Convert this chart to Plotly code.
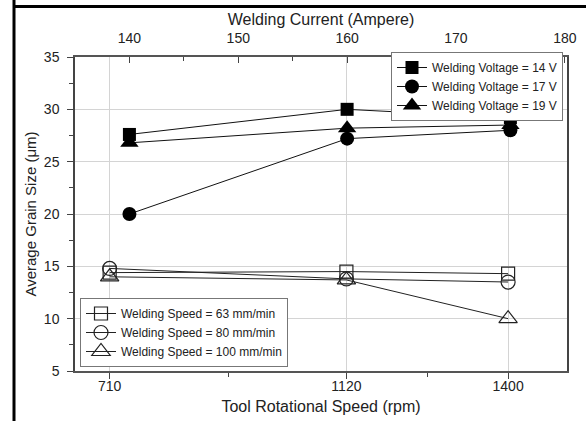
import plotly.graph_objects as go

# Top axis: Welding Current (Ampere)
current = [140, 160, 175]
v14 = [27.6, 30.0, 29.2]
v17 = [20.0, 27.2, 28.0]
v19 = [26.8, 28.2, 28.5]

# Bottom axis: Tool Rotational Speed (rpm)
rpm = [710, 1120, 1400]
s63 = [14.4, 14.5, 14.3]
s80 = [14.8, 13.8, 13.5]
s100 = [14.0, 13.7, 10.0]

voltage_names = ["Welding Voltage = 14 V", "Welding Voltage = 17 V", "Welding Voltage = 19 V"]
speed_names = ["Welding Speed = 63 mm/min", "Welding Speed = 80 mm/min", "Welding Speed = 100 mm/min"]

FONT = "Liberation Sans, Arial, sans-serif"
fig = go.Figure()

for ys, name, sym, sz in zip([s63, s80, s100], speed_names,
                             ["square-open", "circle-open", "triangle-up-open"], [13, 14, 16]):
    fig.add_trace(go.Scatter(
        x=rpm, y=ys, name=name, mode="lines+markers",
        line=dict(color="#222", width=1),
        marker=dict(symbol=sym, size=sz, color="#222", line=dict(width=1.2)),
        legend="legend2", xaxis="x", yaxis="y"))

for ys, name, sym, sz in zip([v14, v17, v19], voltage_names,
                             ["square", "circle", "triangle-up"], [13, 14, 16]):
    fig.add_trace(go.Scatter(
        x=current, y=ys, name=name, mode="lines+markers",
        line=dict(color="#111", width=1),
        marker=dict(symbol=sym, size=sz, color="#000"),
        legend="legend", xaxis="x2", yaxis="y"))

W, H = 586, 421
L, R, T, B = 75, 19, 57, 50
pw, ph = W - L - R, H - T - B

def px(x):
    return (x - L) / pw

def py(y):
    return (H - B - y) / ph

fig.update_layout(
    width=W, height=H,
    margin=dict(l=L, r=R, t=T, b=B, autoexpand=False),
    paper_bgcolor="white", plot_bgcolor="white",
    font=dict(family=FONT, color="#222", size=14),
    showlegend=True,
    xaxis=dict(
        range=[650, 1502], tickvals=rpm, ticks="outside", ticklen=6, tickwidth=1,
        tickcolor="#444", showgrid=True, gridcolor="#d4d4d4", gridwidth=1,
        showline=True, linecolor="#555", linewidth=1.5, zeroline=False, automargin=False,
        ticklabelstandoff=-5,
        minor=dict(tickvals=[915, 1260], ticks="outside", ticklen=4, tickcolor="#444", showgrid=False),
        title=dict(text="Tool Rotational Speed (rpm)", font=dict(size=16), standoff=8),
        tickfont=dict(size=14),
    ),
    xaxis2=dict(
        overlaying="x", side="top", anchor="y", automargin=False,
        range=[135, 180.2], tickvals=[140, 150, 160, 170, 180], ticks="inside", ticklen=6,
        tickcolor="#444", showgrid=False, showline=True, linecolor="#555", linewidth=1.5,
        zeroline=False, ticklabelstandoff=7,
        minor=dict(tickvals=[145, 155, 165, 175], ticks="inside", ticklen=4, tickcolor="#444"),
        title=dict(text="Welding Current (Ampere)", font=dict(size=16), standoff=0),
        tickfont=dict(size=14),
    ),
    yaxis=dict(
        range=[5, 35], dtick=5, ticks="outside", ticklen=6, tickcolor="#444",
        showgrid=True, gridcolor="#d4d4d4", showline=True, linecolor="#444", linewidth=1.5,
        mirror=True, zeroline=False, automargin=False, ticklabelstandoff=5,
        minor=dict(dtick=2.5, ticks="outside", ticklen=4, tickcolor="#444", showgrid=False),
        title=dict(text="Average Grain Size (μm)", font=dict(size=15), standoff=4),
        tickfont=dict(size=14),
    ),
    legend=dict(
        x=px(563), y=py(52), xanchor="right", yanchor="top",
        bgcolor="white", bordercolor="#777", borderwidth=1,
        font=dict(size=12, color="#222"), tracegroupgap=0, itemwidth=30,
    ),
    legend2=dict(
        x=px(80), y=py(367), xanchor="left", yanchor="bottom",
        bgcolor="white", bordercolor="#777", borderwidth=1,
        font=dict(size=12, color="#222"), tracegroupgap=0, itemwidth=30,
    ),
    shapes=[
        dict(type="line", xref="paper", yref="paper", x0=px(14), x1=px(14), y0=py(0), y1=py(H),
             line=dict(color="black", width=3)),
        dict(type="line", xref="paper", yref="paper", x0=px(13), x1=px(W + 2), y0=py(6.5), y1=py(6.5),
             line=dict(color="black", width=3)),
    ],
)

fig.write_html("out.html", config={"displayModeBar": False},
               post_script="document.body.style.margin='0';document.body.style.overflow='hidden';")
